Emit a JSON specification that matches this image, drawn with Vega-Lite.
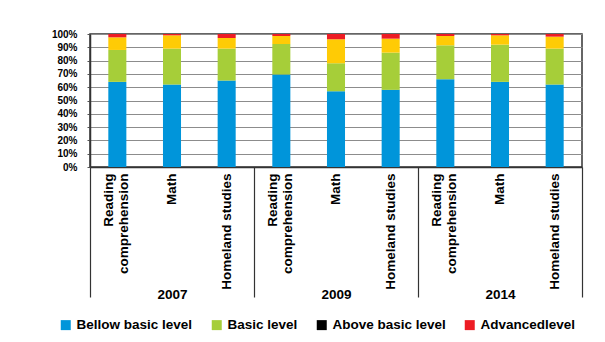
{
  "$schema": "https://vega.github.io/schema/vega-lite/v6.json",
  "autosize": {"type": "none"},
  "padding": {"left": 90, "top": 34, "right": 23, "bottom": 175},
  "width": 492,
  "height": 133,
  "background": "white",
  "data": {
    "values": [
      {"year": "2007", "subject": "Reading comprehension", "level": "Bellow basic level", "value": 64},
      {"year": "2007", "subject": "Reading comprehension", "level": "Basic level", "value": 24},
      {"year": "2007", "subject": "Reading comprehension", "level": "Above basic level", "value": 9.5},
      {"year": "2007", "subject": "Reading comprehension", "level": "Advancedlevel", "value": 2.5},
      {"year": "2007", "subject": "Math", "level": "Bellow basic level", "value": 62},
      {"year": "2007", "subject": "Math", "level": "Basic level", "value": 27},
      {"year": "2007", "subject": "Math", "level": "Above basic level", "value": 10},
      {"year": "2007", "subject": "Math", "level": "Advancedlevel", "value": 1},
      {"year": "2007", "subject": "Homeland studies", "level": "Bellow basic level", "value": 65},
      {"year": "2007", "subject": "Homeland studies", "level": "Basic level", "value": 24},
      {"year": "2007", "subject": "Homeland studies", "level": "Above basic level", "value": 8},
      {"year": "2007", "subject": "Homeland studies", "level": "Advancedlevel", "value": 3},
      {"year": "2009", "subject": "Reading comprehension", "level": "Bellow basic level", "value": 69.5},
      {"year": "2009", "subject": "Reading comprehension", "level": "Basic level", "value": 23},
      {"year": "2009", "subject": "Reading comprehension", "level": "Above basic level", "value": 6},
      {"year": "2009", "subject": "Reading comprehension", "level": "Advancedlevel", "value": 1.5},
      {"year": "2009", "subject": "Math", "level": "Bellow basic level", "value": 57},
      {"year": "2009", "subject": "Math", "level": "Basic level", "value": 21},
      {"year": "2009", "subject": "Math", "level": "Above basic level", "value": 18},
      {"year": "2009", "subject": "Math", "level": "Advancedlevel", "value": 4},
      {"year": "2009", "subject": "Homeland studies", "level": "Bellow basic level", "value": 58},
      {"year": "2009", "subject": "Homeland studies", "level": "Basic level", "value": 28},
      {"year": "2009", "subject": "Homeland studies", "level": "Above basic level", "value": 10.5},
      {"year": "2009", "subject": "Homeland studies", "level": "Advancedlevel", "value": 3.5},
      {"year": "2014", "subject": "Reading comprehension", "level": "Bellow basic level", "value": 66},
      {"year": "2014", "subject": "Reading comprehension", "level": "Basic level", "value": 25.5},
      {"year": "2014", "subject": "Reading comprehension", "level": "Above basic level", "value": 7},
      {"year": "2014", "subject": "Reading comprehension", "level": "Advancedlevel", "value": 1.5},
      {"year": "2014", "subject": "Math", "level": "Bellow basic level", "value": 64},
      {"year": "2014", "subject": "Math", "level": "Basic level", "value": 28},
      {"year": "2014", "subject": "Math", "level": "Above basic level", "value": 7},
      {"year": "2014", "subject": "Math", "level": "Advancedlevel", "value": 1},
      {"year": "2014", "subject": "Homeland studies", "level": "Bellow basic level", "value": 62},
      {"year": "2014", "subject": "Homeland studies", "level": "Basic level", "value": 27},
      {"year": "2014", "subject": "Homeland studies", "level": "Above basic level", "value": 9},
      {"year": "2014", "subject": "Homeland studies", "level": "Advancedlevel", "value": 2}
    ]
  },
  "transform": [
    {"calculate": "datum.year + ' ' + datum.subject", "as": "bar"},
    {"calculate": "indexof(['Bellow basic level', 'Basic level', 'Above basic level', 'Advancedlevel'], datum.level)", "as": "stackRank"}
  ],
  "layer": [
    {
      "mark": {"type": "bar", "width": {"band": 0.33}},
      "encoding": {
        "x": {
          "field": "bar",
          "type": "nominal",
          "sort": null,
          "scale": {"paddingInner": 0, "paddingOuter": 0},
          "axis": {
            "title": null,
            "labelAngle": -90,
            "labelExpr": "indexof(datum.value, 'Reading') >= 0 ? ['Reading', 'comprehension'] : slice(datum.value, 5)",
            "labelFont": "Liberation Sans",
            "labelFontWeight": "bold",
            "labelFontSize": 13.5,
            "labelColor": "black",
            "labelLineHeight": 15,
            "labelPadding": 6,
            "labelOffset": {"condition": {"test": "indexof(datum.value, 'Reading') >= 0", "value": -8}, "value": 0},
            "labelLimit": 0,
            "ticks": false,
            "grid": false,
            "domainColor": "#333333",
            "domainWidth": 1.5
          }
        },
        "y": {
          "field": "value",
          "type": "quantitative",
          "stack": "normalize",
          "scale": {"domain": [0, 1]},
          "axis": {
            "title": null,
            "format": ".0%",
            "values": [0, 0.1, 0.2, 0.3, 0.4, 0.5, 0.6, 0.7, 0.8, 0.9, 1],
            "labelFont": "Liberation Sans",
            "labelFontWeight": "bold",
            "labelFontSize": 10,
            "labelColor": "black",
            "labelPadding": 10,
            "tickSize": 3,
            "tickColor": "#555555",
            "grid": true,
            "gridColor": "#8c8c8c",
            "gridWidth": 1.2,
            "domainColor": "#333333",
            "domainWidth": 1.5
          }
        },
        "order": {"field": "stackRank", "type": "quantitative"},
        "color": {
          "field": "level",
          "type": "nominal",
          "scale": {
            "domain": ["Bellow basic level", "Basic level", "Above basic level", "Advancedlevel"],
            "range": ["#0095DA", "#A6CE39", "#FFCB05", "#ED1C24"]
          },
          "legend": null
        }
      }
    },
    {
      "mark": {"type": "bar", "opacity": 0},
      "encoding": {
        "x": {
          "field": "year",
          "type": "nominal",
          "sort": null,
          "scale": {"paddingInner": 0, "paddingOuter": 0},
          "axis": {
            "orient": "bottom",
            "title": null,
            "domain": false,
            "grid": false,
            "tickBand": "extent",
            "tickSize": 130,
            "tickColor": "#333333",
            "tickWidth": 1.2,
            "labelAngle": 0,
            "labelPadding": -10,
            "labelFont": "Liberation Sans",
            "labelFontWeight": "bold",
            "labelFontSize": 13.5,
            "labelColor": "black"
          }
        },
        "color": {
          "field": "level",
          "type": "nominal",
          "scale": {
            "domain": ["Bellow basic level", "Basic level", "Above basic level", "Advancedlevel"],
            "range": ["#0095DA", "#A6CE39", "#000000", "#ED1C24"]
          },
          "legend": {
            "orient": "none",
            "legendX": -31,
            "legendY": 284,
            "direction": "horizontal",
            "title": null,
            "symbolType": "square",
            "symbolSize": 100,
            "symbolStrokeWidth": 0,
            "symbolOpacity": 1,
            "labelFont": "Liberation Sans",
            "labelFontWeight": "bold",
            "labelFontSize": 13.5,
            "labelColor": "black",
            "labelOffset": 4,
            "columnPadding": 17,
            "labelLimit": 0
          }
        }
      }
    }
  ],
  "resolve": {
    "scale": {"x": "independent", "color": "independent"},
    "axis": {"x": "independent"},
    "legend": {"color": "independent"}
  },
  "config": {
    "view": {"stroke": "#333333", "strokeWidth": 1.5}
  }
}
